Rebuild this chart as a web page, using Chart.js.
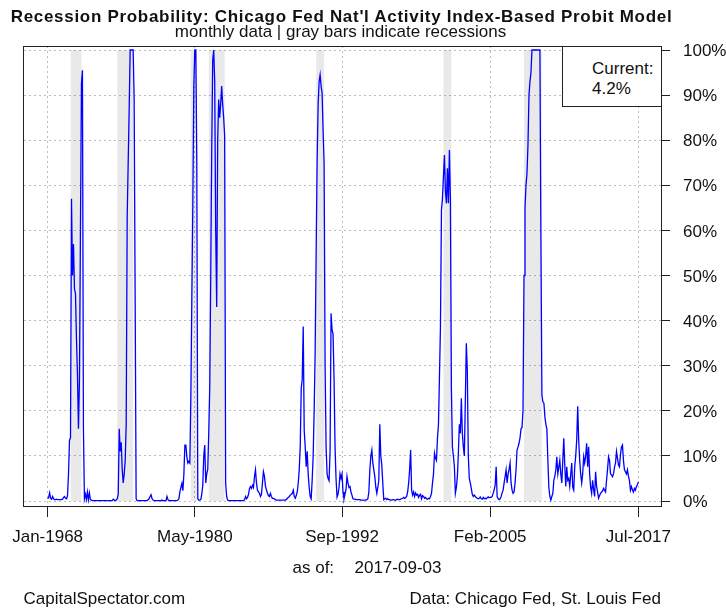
<!DOCTYPE html>
<html>
<head>
<meta charset="utf-8">
<script src="https://cdn.jsdelivr.net/npm/chart.js@4.4.1/dist/chart.umd.min.js"></script>
<style>
html,body{margin:0;padding:0;background:#fff;}
#wrap{position:relative;width:726px;height:609px;overflow:hidden;font-family:"Liberation Sans",Arial,sans-serif;color:#111;}
#c{position:absolute;left:0;top:0;}
.t{position:absolute;white-space:pre;font-size:17px;line-height:17px;}
#box{position:absolute;left:562px;top:46px;width:100px;height:61px;border:1px solid #222;box-sizing:border-box;background:#fff;}
</style>
</head>
<body>
<div id="wrap">
<canvas id="c" width="726" height="609"></canvas>
<div class="t" style="left:0;width:683px;top:7.6px;text-align:center;font-weight:bold;letter-spacing:0.7px;">Recession Probability: Chicago Fed Nat'l Activity Index-Based Probit Model</div>
<div class="t" style="left:0;width:681px;top:22.6px;text-align:center;">monthly data | gray bars indicate recessions</div>
<div id="box"></div>
<div class="t" style="left:592px;top:59.6px;">Current:</div>
<div class="t" id="cur" style="left:592px;top:79.6px;"></div>
<div class="t" style="left:292.5px;top:558.6px;">as of:</div>
<div class="t" style="left:354.5px;top:558.6px;">2017-09-03</div>
<div class="t" style="left:23.5px;top:589.6px;">CapitalSpectator.com</div>
<div class="t" style="left:409.5px;top:589.6px;">Data: Chicago Fed, St. Louis Fed</div>
</div>
<script>
// ---- data ----
const MONTHS = ["Jan","Feb","Mar","Apr","May","Jun","Jul","Aug","Sep","Oct","Nov","Dec"];
const firstMonth = "Jan-1968";
// monthly recession probability (%), Jan-1968 .. Jul-2017, one row per year
const probPct = [
  0.5, 0.8, 1.8, 0.6, 0.4, 1.0, 0.5, 0.3, 0.3, 0.4, 0.3, 0.3,        // 1968
  0.3, 0.3, 0.3, 0.4, 0.8, 1.0, 0.6, 0.5, 1.2, 6.0, 13.5, 14.0,      // 1969
  67, 50, 57, 47, 46, 36, 28, 16, 27, 60, 92.6, 95.5,                // 1970
  16, 0.5, 1.5, 0.3, 2, 0.3, 1.8, 0.3, 0.2, 0.1, 0.1, 0.1,           // 1971
  0.1, 0.1, 0.1, 0.1, 0.1, 0.1, 0.1, 0.1, 0.1, 0.1, 0.1, 0.1,        // 1972
  0.1, 0.1, 0.1, 0.1, 0.1, 0.1, 0.4, 0.2, 0.1, 0.2, 0.5, 1.5,        // 1973
  16, 11, 13, 7, 4, 6, 9, 17, 63, 75, 87, 100,                       // 1974
  100, 100, 100, 89, 45, 0.5, 0.1, 0.1, 0.1, 0.1, 0.1, 0.1,          // 1975
  0.1, 0.1, 0.1, 0.1, 0.1, 0.3, 0.5, 1.0, 1.4, 0.5, 0.2, 0.1,        // 1976
  0.1, 0.1, 0.1, 0.1, 0.1, 0.1, 0.1, 0.2, 0.1, 0.1, 0.1, 0.1,        // 1977
  1.0, 0.3, 0.1, 0.1, 0.1, 0.1, 0.1, 0.1, 0.1, 0.1, 0.1, 0.2,        // 1978
  0.5, 2, 3, 3.9, 2.3, 6, 12.4, 12.4, 9.8, 8.4, 8.8, 8.4,            // 1979
  23, 45, 66, 92, 100, 100, 75, 0.5, 0.2, 0.2, 0.3, 1.5,             // 1980
  3.5, 10, 12.4, 4, 6, 7, 15, 25, 50, 78, 97.8, 100,                 // 1981
  93, 60, 43, 80, 89, 85, 88, 92, 88, 85, 81, 4,                     // 1982
  1.0, 0.2, 0.1, 0.1, 0.1, 0.1, 0.1, 0.1, 0.1, 0.1, 0.1, 0.1,        // 1983
  0.1, 0.1, 0.1, 0.1, 0.1, 0.1, 0.3, 1.0, 0.5, 0.8, 1.5, 2.8,        // 1984
  3.2, 2.8, 3.5, 3, 5.4, 6.9, 4, 2.4, 2, 1.7, 1, 1.5,                // 1985
  4, 6.5, 5.5, 3.3, 2.5, 1.7, 1.2, 1, 1.7, 1, 0.6, 0.6,              // 1986
  0.5, 0.3, 0.2, 0.2, 0.2, 0.2, 0.2, 0.2, 0.2, 0.2, 0.2, 0.2,        // 1987
  0.3, 0.6, 0.8, 1.0, 1.3, 1.5, 1.7, 2.4, 1.0, 0.6, 1.2, 2.0,        // 1988
  4, 7, 12, 25, 27, 38.7, 15.7, 12, 7.6, 11, 6, 3,                   // 1989
  1, 0.5, 4.6, 10, 20, 33, 55, 75.6, 88, 93, 94.5, 92,               // 1990
  90.4, 82, 75, 30, 12, 6, 5, 4.5, 11, 41.6, 38, 37,                 // 1991
  27, 12, 5, 0.9, 1.5, 3, 6, 5, 6, 2, 0.5, 1.5,                      // 1992
  2.5, 5.4, 4, 3, 3.2, 2, 1.3, 0.5, 0.4, 0.4, 0.3, 0.3,              // 1993
  0.3, 0.3, 0.3, 0.2, 0.2, 0.2, 0.2, 0.2, 0.2, 0.3, 0.5, 2,          // 1994
  7, 10, 11.3, 8.4, 6.9, 5.4, 3, 1.7, 3, 4.6, 17, 10,                // 1995
  8, 4, 0.3, 0.5, 0.6, 0.3, 0.5, 0.3, 0.3, 0.2, 0.2, 0.3,            // 1996
  0.3, 0.2, 0.2, 0.3, 0.4, 0.3, 0.3, 0.4, 0.5, 0.6, 0.8, 0.6,        // 1997
  0.8, 1, 2, 4, 6.9, 11.3, 2.4, 1.3, 2, 1, 1.8, 1.3,                 // 1998
  1.5, 0.8, 1.3, 1.5, 0.5, 1.2, 1.0, 0.6, 0.8, 0.5, 0.4, 0.6,        // 1999
  0.5, 1.0, 1.7, 4, 6, 10.6, 9.5, 9, 14, 17, 27.6, 38.7,             // 2000
  64.5, 67, 72, 76.7, 68.6, 66, 73.8, 66, 77.8, 67, 25, 12,          // 2001
  10, 7.6, 1.7, 3, 5.4, 10.6, 17, 15, 22.8, 15, 12, 10,              // 2002
  22, 35, 29, 10, 5, 4, 2.8, 1.5, 1, 1.3, 1, 0.8,                    // 2003
  0.6, 0.5, 0.6, 0.9, 0.5, 0.4, 0.8, 0.5, 0.6, 0.5, 0.7, 0.9,        // 2004
  0.7, 0.8, 0.8, 1.0, 1.7, 2.5, 3.5, 7.6, 1.0, 0.5, 0.3, 0.5,        // 2005
  1.0, 1.8, 2.4, 4, 5.4, 6.9, 4, 6, 7, 8.4, 4, 2.4,                  // 2006
  1.7, 2, 4, 7, 11.3, 12, 12.8, 14, 16, 16.3, 20, 50,                // 2007
  65, 70, 72.7, 79, 90, 93, 95, 100, 100, 100, 100, 100,             // 2008
  100, 100, 100, 100, 58, 23.5, 22, 21.7, 18.7, 17, 16, 9,           // 2009
  3, 1, 0.2, 1, 1.7, 4.6, 5.5, 6.9, 9.8, 6, 7.5, 9,                  // 2010
  6, 4, 9, 13.9, 8, 3.2, 7.6, 4.6, 5, 3.2, 6, 8.4,                   // 2011
  3, 2.4, 7.6, 10, 13.5, 21, 13.5, 9, 6, 4, 6, 9.8,                  // 2012
  8.4, 10, 12.8, 7.6, 12, 6, 3, 1.7, 4.6, 2.5, 1, 6.5,               // 2013
  3.2, 2, 0.6, 1.2, 1.7, 2, 2.2, 2.8, 2.4, 2, 4.6, 7,                // 2014
  9.8, 9, 6, 5.8, 5.4, 6, 7.5, 8.4, 11, 9.5, 8, 7.6,                 // 2015
  10.3, 12, 12.4, 9, 6.9, 6.5, 6, 6.9, 5.5, 4.6, 2.4, 3.2,           // 2016
  2.5, 2, 2.8, 2.4, 3.2, 3.6, 4.2                                    // 2017
];
// NBER recessions (gray bars): start month, end month
const recessions = [
  ["Dec-1969", "Nov-1970"],
  ["Nov-1973", "Mar-1975"],
  ["Jan-1980", "Jul-1980"],
  ["Jul-1981", "Nov-1982"],
  ["Jul-1990", "Mar-1991"],
  ["Mar-2001", "Nov-2001"],
  ["Dec-2007", "Jun-2009"]
];
const xTickLabels = ["Jan-1968", "May-1980", "Sep-1992", "Feb-2005", "Jul-2017"];
const yTickPct = [0, 10, 20, 30, 40, 50, 60, 70, 80, 90, 100];

// ---- helpers ----
function monthIndex(lbl) {
  const [m, y] = lbl.split("-");
  const [m0, y0] = firstMonth.split("-");
  return (parseInt(y, 10) - parseInt(y0, 10)) * 12 + MONTHS.indexOf(m) - MONTHS.indexOf(m0);
}
const linePts = probPct.map((v, i) => ({ x: i, y: v / 100 }));
const recPts = [];
recessions.forEach(([s, e]) => {
  const a = monthIndex(s), b = monthIndex(e);
  recPts.push({ x: a, y: 0 }, { x: a, y: 1 }, { x: b, y: 1 }, { x: b, y: 0 });
});
const nLast = probPct.length - 1;
const xPad = nLast * 0.04;
document.getElementById("cur").textContent = probPct[nLast].toFixed(1) + "%";

const FONT = { family: "'Liberation Sans', Arial, sans-serif", size: 17 };
const TXT = "#111";
const GRID = "#bdbdbd";

const framePlugin = {
  id: "frame",
  afterDraw(chart) {
    const { ctx, chartArea: a } = chart;
    ctx.save();
    ctx.strokeStyle = "#222";
    ctx.lineWidth = 1;
    ctx.strokeRect(Math.round(a.left) - 0.5, Math.round(a.top) + 0.5,
                   Math.round(a.right - a.left), Math.round(a.bottom - a.top) - 1);
    ctx.restore();
  }
};

new Chart(document.getElementById("c"), {
  type: "line",
  data: {
    datasets: [
      {
        label: "Recession probability",
        data: linePts,
        borderColor: "#0000ff",
        borderWidth: 1.3,
        pointRadius: 0,
        tension: 0,
        fill: false,
        order: 1
      },
      {
        label: "Recessions",
        data: recPts,
        borderWidth: 0,
        borderColor: "rgba(0,0,0,0)",
        backgroundColor: "rgba(0,0,0,0.085)",
        pointRadius: 0,
        tension: 0,
        fill: "origin",
        order: 2
      }
    ]
  },
  options: {
    responsive: false,
    animation: false,
    devicePixelRatio: 1,
    layout: { padding: { left: 24, top: 46, right: 0, bottom: 0 } },
    plugins: { legend: { display: false }, tooltip: { enabled: false }, title: { display: false } },
    scales: {
      x: {
        type: "linear",
        min: -xPad,
        max: nLast + xPad,
        afterBuildTicks(scale) { scale.ticks = xTickLabels.map(l => ({ value: monthIndex(l) })); },
        afterFit(scale) { scale.height = 102; },
        ticks: {
          autoSkip: false, maxRotation: 0, minRotation: 0, padding: 10.5,
          color: TXT, font: FONT,
          callback(v) { const l = xTickLabels.find(t => monthIndex(t) === v); return l || ""; }
        },
        grid: { color: GRID, lineWidth: 1, drawTicks: true, tickLength: 10, tickColor: "#222", tickWidth: 1 },
        border: { display: false, dash: [2, 3] }
      },
      y: {
        type: "linear",
        position: "right",
        min: -0.0133,
        max: 1.0089,
        afterBuildTicks(scale) { scale.ticks = yTickPct.map(p => ({ value: p / 100 })); },
        afterFit(scale) { scale.width = 64; },
        ticks: {
          padding: 13, labelOffset: 1.5, color: TXT, font: FONT,
          callback(v) { return Math.round(v * 100) + "%"; }
        },
        grid: { color: GRID, lineWidth: 1, drawTicks: true, tickLength: 8, tickColor: "#222", tickWidth: 1 },
        border: { display: false, dash: [2, 3] }
      }
    }
  },
  plugins: [framePlugin]
});
</script>
</body>
</html>
